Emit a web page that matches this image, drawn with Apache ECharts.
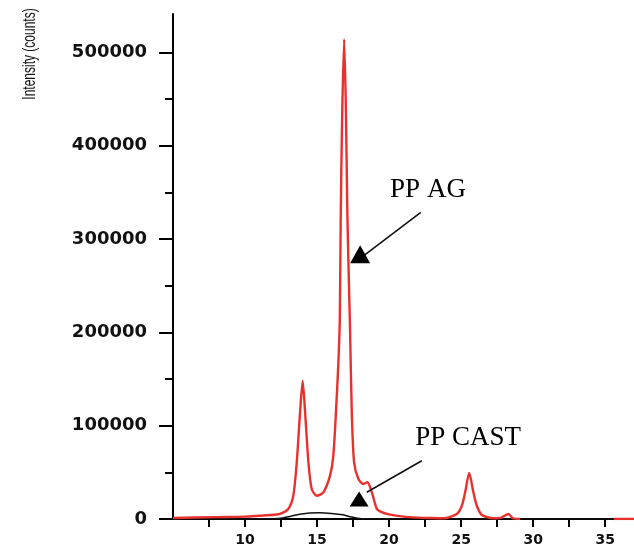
<!DOCTYPE html>
<html>
<head>
<meta charset="utf-8">
<script src="https://cdn.jsdelivr.net/npm/echarts@6/dist/echarts.min.js"></script>
<style>
  html, body { margin: 0; padding: 0; background: #fff; }
  #chart { width: 634px; height: 547px; }
</style>
</head>
<body>
<div id="chart"></div>
<script>
"use strict";
// PP AG trace (red)
var agX = [5, 8, 10, 11, 12, 12.43, 13.0, 13.35, 13.59, 13.82, 14.0, 14.17, 14.4, 14.63, 14.98, 15.44, 15.9, 16.13, 16.37, 16.5, 16.58, 16.64, 16.74, 16.88, 17.0, 17.1, 17.2, 17.29, 17.41, 17.57, 17.87, 18.22, 18.49, 18.8, 19.15, 19.4, 20.0, 21.0, 22.0, 23.0, 23.77, 24.7, 25.05, 25.28, 25.56, 25.85, 26.09, 26.44, 27.24, 27.8, 28.28, 28.6, 29.1, 32, 35.6, 37];
var agY = [1000, 2000, 2500, 3500, 4500, 5400, 10700, 24900, 60700, 114200, 148000, 114200, 60700, 32100, 24900, 28600, 46400, 67800, 132000, 175000, 215000, 320000, 430000, 514000, 440000, 330000, 260000, 203000, 114200, 60700, 42800, 37500, 39300, 28600, 10700, 8000, 5000, 2500, 1500, 1000, 800, 5400, 14200, 28600, 49300, 28600, 14200, 4300, 800, 1500, 5400, 800, 0, '-', 0, 0];
// PP CAST trace (black)
var castX = [5, 12, 12.6, 13.2, 13.8, 14.5, 15.2, 16.0, 16.8, 17.3, 17.8, 18.5, 22, 37];
var castY = [0, 300, 1000, 3000, 5000, 6500, 6800, 6000, 4500, 2500, 800, 200, 0, 0];

var yMajorTicks = [0, 100000, 200000, 300000, 400000, 500000];
var yMinorTicks = [50000, 150000, 250000, 350000, 450000];
var xTicks = [7.5, 10, 12.5, 15, 17.5, 20, 22.5, 25, 27.5, 30, 32.5, 35];
var xLabels = [10, 15, 20, 25, 30, 35];

function pairs(xs, ys) {
  return xs.map(function (x, i) { return [x, ys[i]]; });
}

var chart = echarts.init(document.getElementById('chart'));
var axisLine = { show: true, lineStyle: { color: '#000', width: 2 } };

chart.setOption({
  animation: false,
  grid: { left: 173, right: 0, top: 14, bottom: 27 },
  xAxis: {
    type: 'value', min: 5, max: 37,
    axisLine: axisLine,
    splitLine: { show: false },
    axisTick: { show: true, length: 8, lineStyle: { color: '#000', width: 2 }, customValues: xTicks },
    axisLabel: {
      customValues: xLabels, margin: 14,
      fontFamily: 'DejaVu Sans', fontWeight: 'bold', fontSize: 14, color: '#111'
    }
  },
  yAxis: [{
    type: 'value', min: 0, max: 541000,
    axisLine: axisLine,
    splitLine: { show: false },
    axisTick: { show: true, length: 14, lineStyle: { color: '#000', width: 2 }, customValues: yMajorTicks },
    axisLabel: {
      customValues: yMajorTicks, margin: 26,
      formatter: function (v) { return String(v); },
      fontFamily: 'DejaVu Sans', fontWeight: 'bold', fontSize: 18, color: '#111'
    }
  }, {
    type: 'value', min: 0, max: 541000, position: 'left',
    axisLine: { show: false },
    splitLine: { show: false },
    axisTick: { show: true, length: 8, lineStyle: { color: '#000', width: 2 }, customValues: yMinorTicks },
    axisLabel: { show: false }
  }],
  graphic: [{
    type: 'text', x: 30, y: 54, rotation: Math.PI / 2, scaleY: 1.5,
    style: {
      text: 'Intensity (counts)', fill: '#111',
      font: '12px "Liberation Sans"', align: 'center', verticalAlign: 'middle'
    }
  }],
  series: [{
    type: 'line', data: pairs(castX, castY), showSymbol: false, smooth: 0.3,
    lineStyle: { color: '#111', width: 1.5 }, z: 3
  }, {
    type: 'line', data: pairs(agX, agY), showSymbol: false, smooth: 0.25,
    connectNulls: false,
    lineStyle: { color: '#e8302c', width: 2.4 }, z: 4,
    markLine: {
      silent: true, symbol: ['none', 'none'],
      lineStyle: { color: '#111', width: 1.6, type: 'solid' },
      label: { show: false },
      data: [
        [{ coord: [22.2, 328400] }, { coord: [18.22, 281900] }],
        [{ coord: [22.27, 62400] }, { coord: [18.45, 28600] }]
      ]
    },
    markPoint: {
      silent: true,
      data: [
        { coord: [17.99, 283700], symbol: 'triangle', symbolSize: [20, 18], itemStyle: { color: '#000' }, label: { show: false } },
        { coord: [17.92, 21400], symbol: 'triangle', symbolSize: [19, 15], itemStyle: { color: '#000' }, label: { show: false } },
        { coord: [22.7, 352300], symbol: 'rect', symbolSize: 0,
          label: { show: true, position: 'inside', formatter: 'PP AG', fontFamily: 'Liberation Serif', fontSize: 27, color: '#000' } },
        { coord: [25.49, 87300], symbol: 'rect', symbolSize: 0,
          label: { show: true, position: 'inside', formatter: 'PP CAST', fontFamily: 'Liberation Serif', fontSize: 27, color: '#000' } }
      ]
    }
  }]
});
</script>
</body>
</html>
